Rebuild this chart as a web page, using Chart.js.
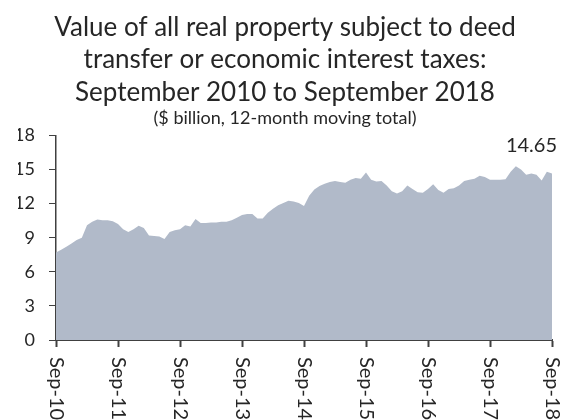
<!DOCTYPE html>
<html>
<head>
<meta charset="utf-8">
<script src="https://cdn.jsdelivr.net/npm/chart.js@4/dist/chart.umd.min.js"></script>
<style>
  html, body { margin: 0; padding: 0; background: #fff; }
  #wrap { width: 561px; height: 420px; }
</style>
</head>
<body>
<div id="wrap"><canvas id="chartCanvas" width="561" height="420"></canvas></div>
<script>
// monthly values, Sep-10 .. Sep-18 ($ billion, 12-month moving total)
const values = [
  7.7, 7.95, 8.2, 8.5, 8.8, 9.0, 10.1, 10.4, 10.6, 10.55, 10.55, 10.45,
  10.2, 9.75, 9.5, 9.75, 10.05, 9.85, 9.2, 9.15, 9.1, 8.9, 9.5, 9.65,
  9.75, 10.1, 10.0, 10.65, 10.3, 10.3, 10.35, 10.35, 10.4, 10.4, 10.55, 10.75,
  11.0, 11.1, 11.1, 10.7, 10.7, 11.2, 11.55, 11.85, 12.05, 12.25, 12.2, 12.05,
  11.8, 12.7, 13.25, 13.55, 13.75, 13.9, 14.0, 13.9, 13.85, 14.1, 14.25, 14.2,
  14.75, 14.1, 13.95, 14.0, 13.6, 13.1, 12.9, 13.1, 13.6, 13.3, 13.0, 12.95,
  13.3, 13.7, 13.2, 12.95, 13.3, 13.35, 13.6, 14.0, 14.1, 14.2, 14.45, 14.35,
  14.1, 14.1, 14.1, 14.15, 14.8, 15.3, 15.0, 14.55, 14.65, 14.55, 14.05, 14.8,
  14.65
];
const tickLabels = ['Sep-10', 'Sep-11', 'Sep-12', 'Sep-13', 'Sep-14', 'Sep-15', 'Sep-16', 'Sep-17', 'Sep-18'];
const lastLabel = '14.65';

const titleLines = [
  'Value of all real property subject to deed',
  'transfer or economic interest taxes:',
  'September 2010 to September 2018'
];
const subtitleText = '($ billion, 12-month moving total)';

const textColor = '#262626';
const fontFamily = 'Lato, "Open Sans", sans-serif';

// rotated x labels (top-to-bottom) + end value label
const extraText = {
  id: 'extraText',
  afterDraw(chart) {
    const ctx = chart.ctx;
    const xs = chart.scales.x;
    const ys = chart.scales.y;
    ctx.save();
    ctx.fillStyle = textColor;
    ctx.font = '20px ' + fontFamily;
    ctx.textAlign = 'left';
    ctx.textBaseline = 'middle';
    xs.ticks.forEach(t => {
      const px = xs.getPixelForValue(t.value);
      ctx.save();
      ctx.translate(px, ys.bottom + 17);
      ctx.rotate(Math.PI / 2);
      ctx.fillText(tickLabels[Math.round(t.value / 12)], 0, 0);
      ctx.restore();
    });
    const last = values.length - 1;
    const lx = xs.getPixelForValue(last);
    const ly = ys.getPixelForValue(values[last]);
    ctx.font = '20px ' + fontFamily;
    ctx.textAlign = 'right';
    ctx.fillText(lastLabel, lx + 5, ly - 28);
    ctx.restore();
  }
};

const ctx = document.getElementById('chartCanvas').getContext('2d');
window.myChart = new Chart(ctx, {
  type: 'line',
  data: {
    datasets: [{
      data: values.map((v, i) => ({ x: i, y: v })),
      backgroundColor: '#b1bac9',
      borderWidth: 0,
      pointRadius: 0,
      fill: 'origin',
      tension: 0
    }]
  },
  options: {
    responsive: false,
    animation: false,
    layout: { padding: { left: 18, right: 9, top: 0, bottom: 73 } },
    plugins: {
      legend: { display: false },
      tooltip: { enabled: false },
      title: {
        display: true,
        text: titleLines,
        color: textColor,
        font: { family: fontFamily, size: 26, weight: 'normal', lineHeight: 1.25 },
        padding: { top: 11, bottom: 0 }
      },
      subtitle: {
        display: true,
        text: subtitleText,
        color: textColor,
        font: { family: fontFamily, size: 18, lineHeight: 1.0 },
        padding: { top: 1, bottom: 8 }
      }
    },
    scales: {
      x: {
        type: 'linear',
        min: 0,
        max: values.length - 1,
        ticks: { stepSize: 12, display: false },
        grid: { drawOnChartArea: false, tickLength: 7, tickColor: '#404040', tickWidth: 2 },
        border: { color: '#404040', width: 2 }
      },
      y: {
        min: 0,
        max: 18,
        ticks: { stepSize: 3, color: textColor, font: { family: fontFamily, size: 18 }, padding: 14 },
        grid: { drawOnChartArea: false, tickLength: 7, tickColor: '#404040', tickWidth: 1 },
        border: { color: '#404040', width: 1.5, dash: [2, 2] },
        afterFit(scale) { scale.width = 38; }
      }
    }
  },
  plugins: [extraText]
});
</script>
</body>
</html>
